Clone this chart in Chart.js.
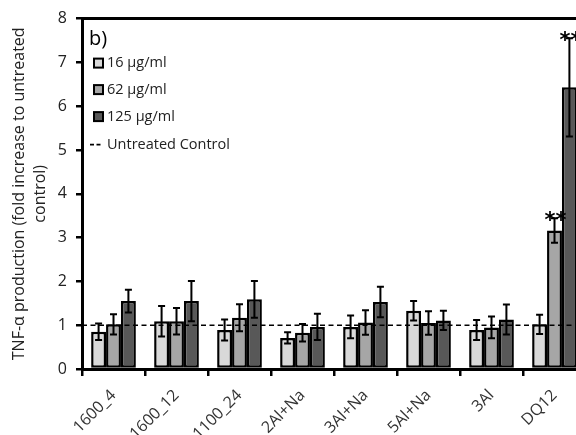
<!DOCTYPE html>
<html>
<head>
<meta charset="utf-8">
<script src="https://cdn.jsdelivr.net/npm/chart.js@4/dist/chart.umd.min.js"></script>
<style>
  html, body { margin: 0; padding: 0; overflow: hidden; background: #fff; }
  #contenedor { width: 600px; height: 435px; }
</style>
</head>
<body>
<div id="contenedor"><canvas id="graficoTNF"></canvas></div>
<script>
const categorias = ["1600_4", "1600_12", "1100_24", "2Al+Na", "3Al+Na", "5Al+Na", "3Al", "DQ12"];
const series = ["16 µg/ml", "62 µg/ml", "125 µg/ml"];
const valores16 = [0.85, 1.09, 0.89, 0.71, 0.96, 1.33, 0.89, 1.02];
const errores16 = [0.19, 0.35, 0.24, 0.13, 0.26, 0.22, 0.23, 0.22];
const valores62 = [1.02, 1.09, 1.17, 0.83, 1.06, 1.05, 0.95, 3.16];
const errores62 = [0.23, 0.30, 0.31, 0.20, 0.28, 0.27, 0.25, 0.28];
const valores125 = [1.55, 1.55, 1.59, 0.96, 1.53, 1.11, 1.13, 6.43];
const errores125 = [0.26, 0.46, 0.42, 0.30, 0.35, 0.22, 0.34, 1.12];
const signif16 = ["", "", "", "", "", "", "", ""];
const signif62 = ["", "", "", "", "", "", "", "**"];
const signif125 = ["", "", "", "", "", "", "", "**"];
const controlNombre = "Untreated Control";
const controlValor = 1;
const yTicks = [0, 1, 2, 3, 4, 5, 6, 7, 8];

const colores = ["#d9d9d9", "#a6a6a6", "#585858"];
const errores = [errores16, errores62, errores125];
const signif = [signif16, signif62, signif125];

Chart.defaults.font.family = "'Open Sans', sans-serif";
Chart.defaults.color = "#222";

// barras de error, linea de control, marco superior y leyenda
const extras = {
  id: "extras",
  afterDatasetsDraw(chart) {
    const ctx = chart.ctx;
    const y = chart.scales.y;
    const area = chart.chartArea;
    ctx.save();

    // linea discontinua del control
    const yc = y.getPixelForValue(controlValor);
    ctx.strokeStyle = "#000";
    ctx.lineWidth = 1.6;
    ctx.setLineDash([5, 3.5]);
    ctx.beginPath();
    ctx.moveTo(area.left, yc);
    ctx.lineTo(area.right, yc);
    ctx.stroke();
    ctx.setLineDash([]);

    chart.data.datasets.forEach((ds, i) => {
      const meta = chart.getDatasetMeta(i);
      meta.data.forEach((bar, j) => {
        const v = ds.data[j];
        const e = errores[i][j];
        const yt = y.getPixelForValue(v + e);
        const yb = y.getPixelForValue(v - e);
        ctx.strokeStyle = "#000";
        ctx.lineWidth = 2;
        ctx.beginPath();
        ctx.moveTo(bar.x, yt);
        ctx.lineTo(bar.x, yb);
        ctx.moveTo(bar.x - 3.5, yt);
        ctx.lineTo(bar.x + 3.5, yt);
        ctx.moveTo(bar.x - 3.5, yb);
        ctx.lineTo(bar.x + 3.5, yb);
        ctx.stroke();
        if (signif[i][j]) {
          ctx.fillStyle = "#000";
          ctx.font = "bold 21px 'DejaVu Sans'";
          ctx.textAlign = "center";
          ctx.textBaseline = "alphabetic";
          ctx.fillText(signif[i][j], bar.x + 1, yt + 9);
        }
      });
    });

    // marco superior
    ctx.lineWidth = 3;
    ctx.beginPath();
    ctx.moveTo(area.left, area.top);
    ctx.lineTo(area.right + 20, area.top);
    ctx.stroke();

    // leyenda
    const x0 = area.left;
    ctx.fillStyle = "#000";
    ctx.textAlign = "left";
    ctx.textBaseline = "alphabetic";
    ctx.font = "20px 'Open Sans'";
    ctx.fillText("b)", x0 + 7, area.top + 26);
    ctx.font = "14.5px 'Open Sans'";
    ctx.textBaseline = "middle";
    const filas = [area.top + 44.5, area.top + 71, area.top + 98];
    series.forEach((s, i) => {
      ctx.fillStyle = colores[i];
      ctx.fillRect(x0 + 12, filas[i] - 4.5, 9, 9);
      ctx.strokeStyle = "#000";
      ctx.lineWidth = 2;
      ctx.strokeRect(x0 + 12, filas[i] - 4.5, 9, 9);
      ctx.fillStyle = "#222";
      ctx.fillText(s, x0 + 25, filas[i]);
    });
    const yl = area.top + 126;
    ctx.strokeStyle = "#000";
    ctx.lineWidth = 1.6;
    ctx.setLineDash([4, 2.5]);
    ctx.beginPath();
    ctx.moveTo(x0 + 8, yl);
    ctx.lineTo(x0 + 21, yl);
    ctx.stroke();
    ctx.setLineDash([]);
    ctx.fillStyle = "#222";
    ctx.fillText(controlNombre, x0 + 25, yl);
    ctx.restore();
  }
};

new Chart(document.getElementById("graficoTNF"), {
  type: "bar",
  data: {
    labels: categorias,
    datasets: [
      { label: series[0], data: valores16, backgroundColor: colores[0] },
      { label: series[1], data: valores62, backgroundColor: colores[1] },
      { label: series[2], data: valores125, backgroundColor: colores[2] }
    ].map(d => Object.assign(d, {
      borderColor: "#000",
      borderWidth: 2.5,
      borderSkipped: false,
      categoryPercentage: 0.71,
      barPercentage: 1
    }))
  },
  options: {
    responsive: true,
    maintainAspectRatio: false,
    animation: false,
    layout: { padding: { top: 17, right: 14, left: 0, bottom: 0 } },
    plugins: { legend: { display: false }, tooltip: { enabled: false } },
    scales: {
      x: {
        afterFit: s => { s.height = 66; },
        grid: { offset: true, drawOnChartArea: false, color: "#000", lineWidth: 2.5, tickLength: 7 },
        border: { color: "#000", width: 3 },
        ticks: { minRotation: 45, maxRotation: 45, padding: 10, font: { size: 16 }, color: "#333" }
      },
      y: {
        min: 0,
        max: 8,
        afterFit: s => { s.width = 82; },
        afterBuildTicks: s => { s.ticks = yTicks.map(v => ({ value: v })); },
        grid: { drawOnChartArea: false, color: "#000", lineWidth: 2.5, tickLength: 6 },
        border: { color: "#000", width: 3 },
        ticks: { padding: 9, font: { size: 16 }, color: "#222" },
        title: {
          display: true,
          text: ["TNF-α production (fold increase to untreated", "control)"],
          font: { size: 16, lineHeight: 1.3 },
          color: "#222",
          padding: { top: 9, bottom: 0 }
        }
      }
    }
  },
  plugins: [extras]
});
</script>
</body>
</html>
